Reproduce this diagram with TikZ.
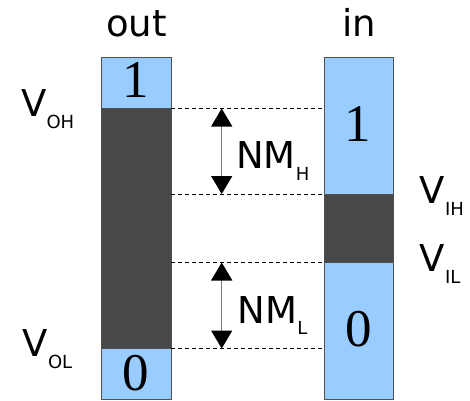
\documentclass[tikz,border=0pt]{standalone}
\usepackage{fontspec}
\newfontfamily\labelfont{DejaVu Sans}
\newfontfamily\digitfont{Liberation Serif}
\usetikzlibrary{arrows.meta}
\definecolor{lvlblue}{RGB}{153,204,255}
\definecolor{lvldark}{RGB}{72,72,72}
\definecolor{edgegray}{RGB}{80,80,80}
\definecolor{shaftgray}{RGB}{120,120,120}
\newcommand{\lvltext}[3]{#1\raisebox{#3}{\fontsize{18}{18}\selectfont #2}}
\begin{document}
\begin{tikzpicture}[x=1pt,y=-1pt,
  seg/.style={draw=edgegray,line width=0.8pt,inner sep=0pt,outer sep=0pt,minimum width=69.5pt},
  hiband/.style={seg,fill=lvlblue},
  midband/.style={seg,fill=lvldark},
  digit/.style={font=\digitfont\fontsize{53}{53}\selectfont,inner sep=0pt},
  title/.style={font=\labelfont\fontsize{37}{37}\selectfont,anchor=base,inner sep=0pt},
  lvl/.style={font=\labelfont\fontsize{37}{37}\selectfont,anchor=base west,inner sep=0pt},
  guide/.style={dash pattern=on 4pt off 3pt,line width=0.8pt},
  margin/.style={draw=shaftgray,line width=1.5pt,
    {Triangle[width=21pt,length=18pt,color=black]}-{Triangle[width=21pt,length=18pt,color=black]}}
]
\useasboundingbox (0,0) rectangle (470,400);

% output levels
\node[hiband,minimum height=51.5pt] (o1) at (136.25,82.75) {};
\node[midband,minimum height=240pt] (om) at (136.25,228.5) {};
\node[hiband,minimum height=50.5pt] (o0) at (136.25,373.75) {};

% input levels
\node[hiband,minimum height=137pt] (i1) at (359,125.5) {};
\node[midband,minimum height=68.5pt] (im) at (359,228.25) {};
\node[hiband,minimum height=136.5pt] (i0) at (359,330.75) {};

% logic values
\node[digit] (o1d) at (135.5,80.5) {1};
\node[digit] (o0d) at (136,373.3) {0};
\node[digit] (i1d) at (358,124) {1};
\node[digit] (i0d) at (358.5,329.5) {0};

% column titles
\node[title] (outt) at (136.5,36) {out};
\node[title] (int) at (359,36) {in};

% threshold guides
\draw[guide] (o1.south east) -- (o1.south east -| i1.west);
\draw[guide] (i1.south west -| o1.east) -- (i1.south west);
\draw[guide] (i0.north west -| o1.east) -- (i0.north west);
\draw[guide] (o0.north east) -- (o0.north east -| i0.west);

% noise margins
\coordinate (armx) at (221.7,0);
\draw[margin] (armx |- o1.south) -- (armx |- i1.south);
\draw[margin] (armx |- i0.north) -- (armx |- o0.north);
\node[lvl] (nmh) at (236,168.3) {\lvltext{NM}{H}{-12pt}};
\node[lvl] (nml) at (237.5,323.3) {\lvltext{NM}{L}{-11pt}};

% voltage levels
\node[lvl] (voh) at (21,116.7) {\lvltext{V}{OH}{-11.7pt}};
\node[lvl] (vol) at (22.5,356) {\lvltext{V}{OL}{-12.3pt}};
\node[lvl] (vih) at (419.5,203.3) {\lvltext{V}{IH}{-11.7pt}};
\node[lvl] (vil) at (419.5,271.7) {\lvltext{V}{IL}{-11.3pt}};
\end{tikzpicture}
\end{document}
